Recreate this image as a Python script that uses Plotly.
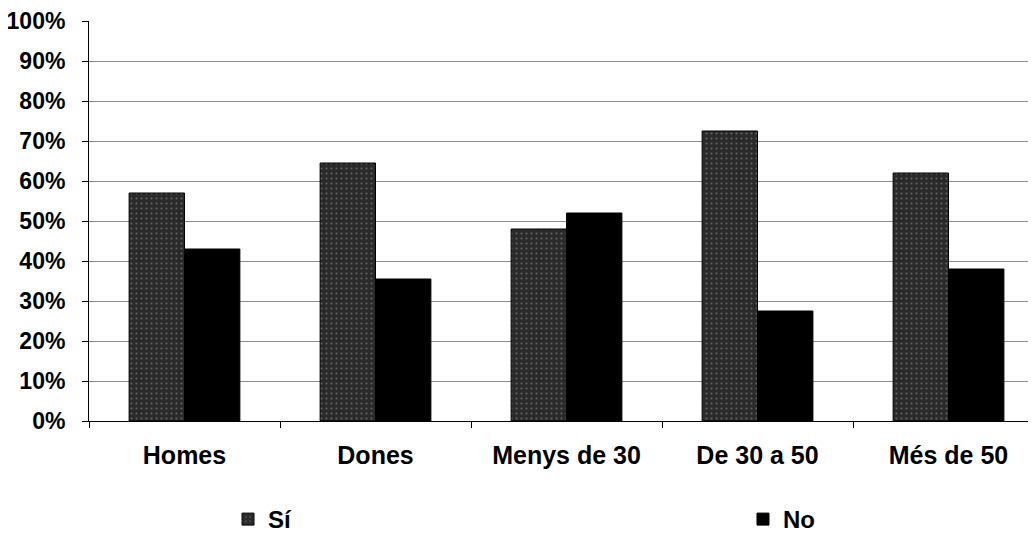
import plotly.graph_objects as go

categories = ["Homes", "Dones", "Menys de 30", "De 30 a 50", "Més de 50"]
si_values = [57, 64.5, 48, 72.5, 62]
no_values = [43, 35.5, 52, 27.5, 38]
y_tickvals = [0, 10, 20, 30, 40, 50, 60, 70, 80, 90, 100]
y_ticktext = [f"{v}%" for v in y_tickvals]

FONT = "Liberation Sans, Arial, sans-serif"
legend_font = dict(family=FONT, size=24, color="black", weight="bold")

fig = go.Figure()
fig.add_trace(go.Bar(
    name="Sí", x=categories, y=si_values, legend="legend",
    marker=dict(color="#3a3a3a", line=dict(color="#000000", width=1),
                pattern=dict(shape=".", fgcolor="#9a9a9a", bgcolor="#2a2a2a", size=5, solidity=0.15)),
))
fig.add_trace(go.Bar(
    name="No", x=categories, y=no_values, legend="legend2",
    marker=dict(color="#000000", line=dict(color="#000000", width=1)),
))

fig.update_layout(
    width=1028, height=533,
    margin=dict(l=81, r=0, t=13, b=120, autoexpand=False),
    paper_bgcolor="white", plot_bgcolor="white",
    barmode="group", bargap=0.42, bargroupgap=0,
    font=dict(family=FONT, color="black"),
    showlegend=True,
    legend=dict(
        orientation="h", x=0.1468, y=-0.19, xanchor="left", yanchor="top",
        font=legend_font, itemwidth=30, bgcolor="rgba(0,0,0,0)",
    ),
    legend2=dict(
        orientation="h", x=0.6906, y=-0.19, xanchor="left", yanchor="top",
        font=legend_font, itemwidth=30, bgcolor="rgba(0,0,0,0)",
    ),
    xaxis=dict(
        range=[-0.5, 4.458], showline=True, linecolor="#000000", linewidth=1,
        ticks="outside", tickson="boundaries", ticklen=6, tickcolor="#000000",
        tickfont=dict(family=FONT, size=25, color="black", weight="bold"),
        ticklabelstandoff=12, showgrid=False, fixedrange=True, automargin=False,
    ),
    yaxis=dict(
        range=[0, 100], tickvals=y_tickvals, ticktext=y_ticktext,
        showline=True, linecolor="#000000", linewidth=1,
        ticks="outside", ticklen=6, tickcolor="#000000",
        tickfont=dict(family=FONT, size=23, color="black", weight="bold"),
        ticklabelstandoff=12, automargin=False,
        showgrid=True, gridcolor="#8c8c8c", gridwidth=1, zeroline=False,
    ),
)

fig.write_html("out.html")
